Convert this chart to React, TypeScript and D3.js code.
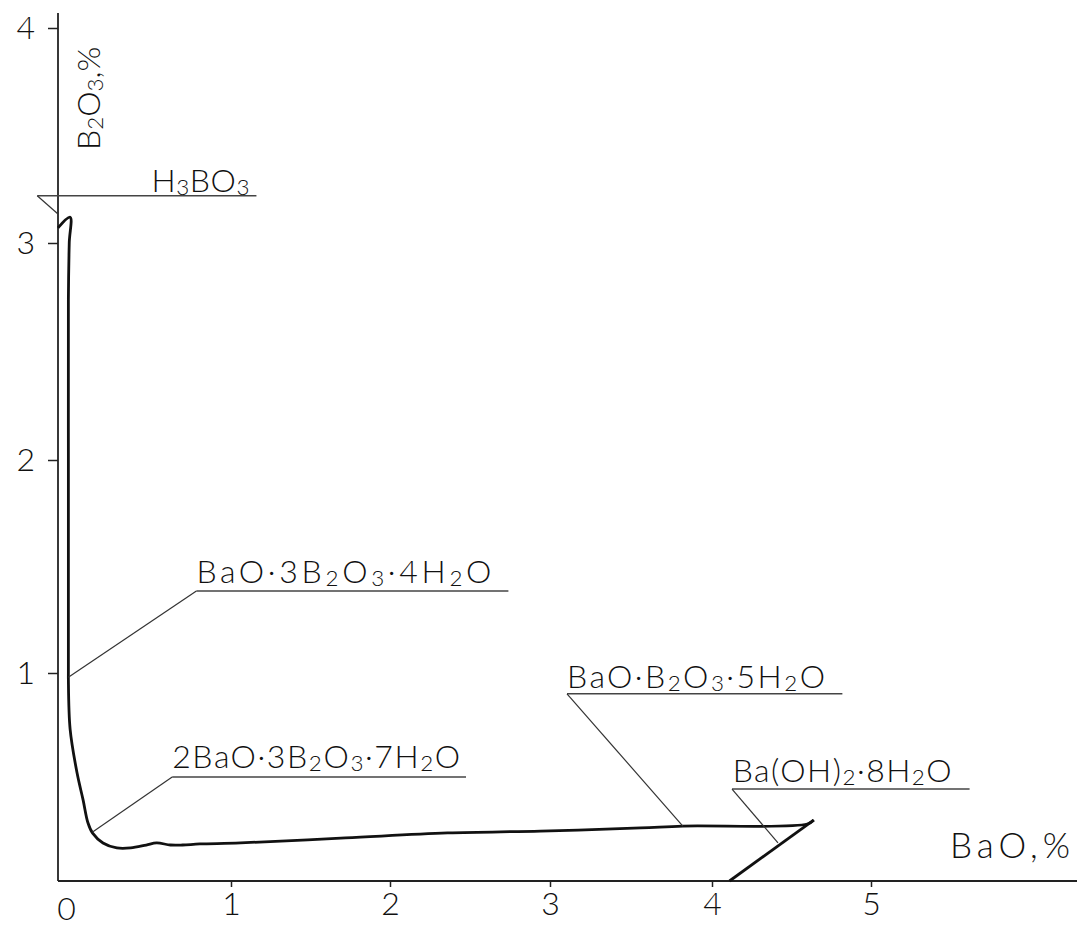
import { useEffect, useRef } from "react";
import * as d3 from "d3";

const xTicks = [0, 1, 2, 3, 4, 5];
const yTicks = [1, 2, 3, 4];

// solubility isotherm: BaO % (x) vs B2O3 % (y)
const curveBaO = [0.0, 0.07, 0.065, 0.06, 0.06, 0.06, 0.06, 0.07, 0.11, 0.145, 0.173, 0.2, 0.26, 0.34, 0.42, 0.51, 0.57, 0.65, 0.72, 0.82, 1.06, 1.72, 2.36, 2.94, 3.56, 3.82, 4.6, 4.64];
const curveB2O3 = [3.07, 3.12, 3.0, 2.74, 2.0, 1.0, 0.97, 0.73, 0.52, 0.39, 0.28, 0.23, 0.183, 0.159, 0.159, 0.173, 0.183, 0.173, 0.173, 0.178, 0.183, 0.207, 0.231, 0.24, 0.255, 0.264, 0.274, 0.293];

// Ba(OH)2·8H2O branch
const hydroxideBaO = [4.64, 4.11];
const hydroxideB2O3 = [0.293, 0.0];

// solid phases and the point of the curve each one points at
const phaseNames = ["H_3BO_3", "BaO·3B_2O_3·4H_2O", "2BaO·3B_2O_3·7H_2O", "BaO·B_2O_3·5H_2O", "Ba(OH)_2·8H_2O"];
const phaseBaO = [0.0, 0.06, 0.2, 3.82, 4.415];
const phaseB2O3 = [3.135, 0.98, 0.236, 0.264, 0.183];

// where the label shelves sit, in axis units
const shelves = [
  { x0: -0.12, y: 3.22, x1: 1.16, tx: 0.54, gap: 4, len: 98 },
  { x0: 0.8, y: 1.385, x1: 2.74, tx: 0.8, gap: 8, len: 295 },
  { x0: 0.66, y: 0.5, x1: 2.475, tx: 0.66, gap: 9, len: 288 },
  { x0: 3.105, y: 0.9, x1: 4.82, tx: 3.105, gap: 6, len: 258 },
  { x0: 4.126, y: 0.442, x1: 5.62, tx: 4.13, gap: 7, len: 219 },
];

const FONT = "Lato, 'Open Sans', sans-serif";

function formula(sel: any, str: string) {
  let down = false;
  str
    .split(/(_\d)/)
    .filter(Boolean)
    .forEach((part) => {
      if (part.startsWith("_")) {
        sel.append("tspan").attr("font-size", "0.7em").attr("dy", down ? 0 : 3).text(part.slice(1));
        down = true;
      } else {
        sel.append("tspan").attr("dy", down ? -3 : 0).text(part);
        down = false;
      }
    });
}

export default function App() {
  const ref = useRef<HTMLDivElement>(null);

  useEffect(() => {
    const width = 1077;
    const height = 929;

    const x = d3.scaleLinear().domain(xTicks).range([58, 231, 390, 550, 712, 871]);
    const y = d3.scaleLinear().domain([0, ...yTicks]).range([881, 673, 460, 243, 28]);

    const svg = d3
      .select(ref.current)
      .append("svg")
      .attr("width", width)
      .attr("height", height)
      .style("background", "#fff")
      .attr("font-family", FONT)
      .attr("font-weight", 300);

    /* axes */
    svg
      .append("line")
      .attr("x1", x(0))
      .attr("x2", x(0))
      .attr("y1", y(0))
      .attr("y2", y(4.07))
      .attr("stroke", "#222")
      .attr("stroke-width", 1.8);

    svg
      .append("line")
      .attr("x1", x(0))
      .attr("x2", width)
      .attr("y1", y(0))
      .attr("y2", y(0))
      .attr("stroke", "#222")
      .attr("stroke-width", 1.8);

    const gx = svg
      .append("g")
      .attr("transform", `translate(0, ${y(0)})`)
      .call(d3.axisBottom(x).tickValues(xTicks).tickSize(6).tickPadding(5).tickFormat(d3.format("d")));
    gx.select(".domain").remove();
    gx.selectAll(".tick line").attr("stroke", "#222").attr("stroke-width", 1.5).filter((d: any) => d === 0).remove();
    gx.selectAll(".tick text").attr("font-size", 32).attr("font-family", FONT).attr("fill", "#111");
    gx.selectAll(".tick text").filter((d: any) => d === 0).attr("dx", 8).attr("y", 16);

    const gy = svg
      .append("g")
      .attr("transform", `translate(${x(0)}, 0)`)
      .call(d3.axisLeft(y).tickValues(yTicks).tickSize(10).tickPadding(13).tickFormat(d3.format("d")));
    gy.select(".domain").remove();
    gy.selectAll(".tick line").attr("stroke", "#222").attr("stroke-width", 1.5);
    gy.selectAll(".tick text").attr("font-size", 32).attr("font-family", FONT).attr("fill", "#111");

    /* axis titles */
    const yTitle = svg
      .append("text")
      .attr("transform", "translate(100, 150) rotate(-90)")
      .attr("font-size", 32)
      .attr("fill", "#111");
    formula(yTitle, "B_2O_3,%");

    svg
      .append("text")
      .attr("x", 950)
      .attr("y", 858)
      .attr("font-size", 35)
      .attr("fill", "#111")
      .attr("textLength", 120)
      .attr("lengthAdjust", "spacing")
      .text("BaO,%");

    /* curve */
    const line = d3
      .line<number>()
      .x((_, i) => x(curveBaO[i]))
      .y((d) => y(d))
      .curve(d3.curveCatmullRom.alpha(0.5));

    svg
      .append("path")
      .attr("d", line(curveB2O3))
      .attr("fill", "none")
      .attr("stroke", "#111")
      .attr("stroke-width", 2.8)
      .attr("stroke-linejoin", "round");

    const branch = d3
      .line<number>()
      .x((_, i) => x(hydroxideBaO[i]))
      .y((d) => y(d));

    svg
      .append("path")
      .attr("d", branch(hydroxideB2O3))
      .attr("fill", "none")
      .attr("stroke", "#111")
      .attr("stroke-width", 2.8);

    /* phase labels with leaders */
    phaseNames.forEach((name, i) => {
      const s = shelves[i];
      const sy = y(s.y);

      svg
        .append("line")
        .attr("x1", x(s.x0))
        .attr("x2", x(s.x1))
        .attr("y1", sy)
        .attr("y2", sy)
        .attr("stroke", "#444")
        .attr("stroke-width", 1.5);

      svg
        .append("line")
        .attr("x1", x(s.x0))
        .attr("y1", sy)
        .attr("x2", x(phaseBaO[i]))
        .attr("y2", y(phaseB2O3[i]))
        .attr("stroke", "#333")
        .attr("stroke-width", 1.2);

      const t = svg
        .append("text")
        .attr("x", x(s.tx))
        .attr("y", sy - s.gap)
        .attr("font-size", 32)
        .attr("fill", "#111")
        .attr("textLength", s.len)
        .attr("lengthAdjust", "spacing");
      formula(t, name);
    });

    return () => {
      d3.select(ref.current).selectAll("*").remove();
    };
  }, []);

  return <div ref={ref} style={{ position: "absolute", left: 0, top: 0 }} />;
}
